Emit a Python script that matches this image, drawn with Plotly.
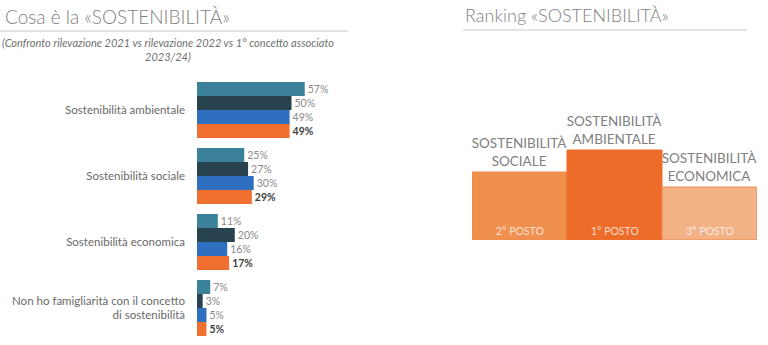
import plotly.graph_objects as go

W, H = 768, 345

# ---- data: left chart ----
categories = [
    "Sostenibilità ambientale",
    "Sostenibilità sociale",
    "Sostenibilità economica",
    "Non ho famigliarità con il concetto<br>di sostenibilità",
]
series_names = ["Rilevazione 2021", "Rilevazione 2022", "Rilevazione 2023", "1° concetto associato 2023/24"]
values_2021 = [57, 25, 11, 7]
values_2022 = [50, 27, 20, 3]
values_2023 = [49, 30, 16, 5]
values_2324 = [49, 29, 17, 5]
series_colors = ["#3a8199", "#28434f", "#2f6fbf", "#ef6f2e"]

# ---- data: right chart (podium) ----
podium_slots = ["2° POSTO", "1° POSTO", "3° POSTO"]
podium_names = ["SOSTENIBILITÀ<br>SOCIALE", "SOSTENIBILITÀ<br>AMBIENTALE", "SOSTENIBILITÀ<br>ECONOMICA"]
podium_heights = [68, 90, 53]
podium_colors = ["#f0904f", "#ee6c2a", "#f3b286"]
podium_lines = ["#ef8a4c", "#ee6c2a", "#ef8a50"]


def px_x(p):
    return p / W


def px_y(p):
    return 1 - p / H


fig = go.Figure()

all_vals = [values_2021, values_2022, values_2023, values_2324]
for i, (name, vals, col) in enumerate(zip(series_names, all_vals, series_colors)):
    last = i == 3
    fig.add_trace(go.Bar(
        y=categories, x=vals, orientation="h", name=name,
        marker=dict(color=col, line=dict(width=0)),
        text=[f"{v}%" for v in vals], textposition="outside",
        textfont=dict(family="Lato", size=10.5,
                      color="#404040" if last else "#8a8a8a",
                      weight="bold" if last else "normal"),
        cliponaxis=False, constraintext="none",
        xaxis="x", yaxis="y", showlegend=False,
    ))

fig.add_trace(go.Bar(
    x=podium_slots, y=podium_heights,
    marker=dict(color=podium_colors, line=dict(color=podium_lines, width=1)),
    text=podium_names, textposition="outside",
    textfont=dict(family="Lato", size=13.5, color="#808080"),
    cliponaxis=False, constraintext="none",
    width=1.0, xaxis="x2", yaxis="y2", showlegend=False,
))

fig.update_layout(
    width=W, height=H,
    margin=dict(l=0, r=0, t=0, b=0),
    paper_bgcolor="white", plot_bgcolor="white",
    font=dict(family="Lato", color="#595959"),
    barmode="group", bargap=0.152, bargroupgap=0,
    xaxis=dict(domain=[px_x(197), px_x(386)], range=[0, 100], visible=False, fixedrange=True),
    yaxis=dict(domain=[px_y(341), px_y(77)], range=[3.5, -0.5], type="category",
               showgrid=False, zeroline=False, showline=False, ticks="",
               tickfont=dict(family="Lato", size=11.5, color="#6a6a6a"),
               ticklabelstandoff=11, anchor="x"),
    xaxis2=dict(domain=[px_x(472), px_x(757)], range=[-0.5, 2.5], visible=False, anchor="y2"),
    yaxis2=dict(domain=[px_y(240), px_y(140)], range=[0, 100], visible=False, anchor="x2"),
)

annotations = [
    dict(text="Cosa è la «SOSTENIBILITÀ»", x=px_x(3), y=px_y(16), xref="paper", yref="paper",
         xanchor="left", yanchor="middle", showarrow=False,
         font=dict(family="Lato", size=19, color="#7f7f7f", weight=300)),
    dict(text="<i>(Confronto rilevazione 2021 vs rilevazione 2022 vs 1° concetto associato<br>2023/24)</i>",
         x=px_x(168), y=px_y(49), xref="paper", yref="paper",
         xanchor="center", yanchor="middle", showarrow=False, align="center",
         font=dict(family="Lato", size=11, color="#707070")),
    dict(text="Ranking «SOSTENIBILITÀ»", x=px_x(463), y=px_y(15), xref="paper", yref="paper",
         xanchor="left", yanchor="middle", showarrow=False,
         font=dict(family="Lato", size=18, color="#7f7f7f", weight=300)),
]
for slot in podium_slots:
    annotations.append(dict(text=slot, x=slot, y=0, xref="x2", yref="y2",
                            xanchor="center", yanchor="bottom", yshift=1, showarrow=False,
                            font=dict(family="Lato", size=10.5, color="rgba(255,255,255,0.75)")))
fig.update_layout(annotations=annotations)

fig.update_layout(shapes=[
    dict(type="line", xref="paper", yref="paper", x0=px_x(0), x1=px_x(348),
         y0=px_y(31), y1=px_y(31), line=dict(color="#c8c8c8", width=1)),
    dict(type="line", xref="paper", yref="paper", x0=px_x(463), x1=px_x(747),
         y0=px_y(30), y1=px_y(30), line=dict(color="#c8c8c8", width=1)),
])

fig.write_html("out.html")
